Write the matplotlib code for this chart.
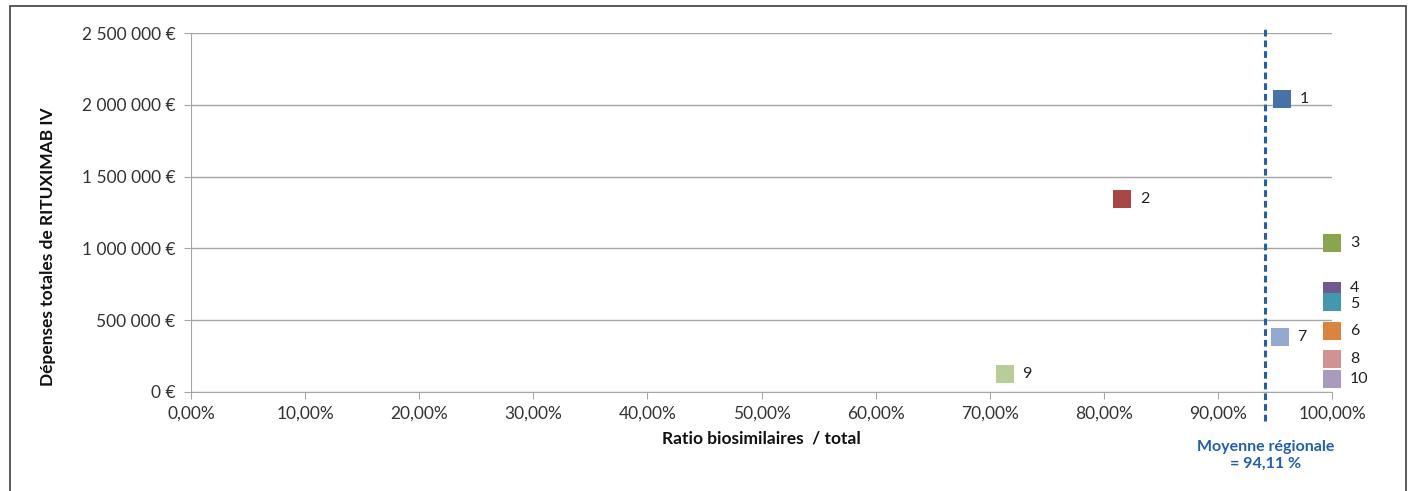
import matplotlib
matplotlib.use("Agg")
import numpy as np
from matplotlib import pyplot as plt
from matplotlib.ticker import FuncFormatter
from matplotlib.patches import Rectangle

# values
labels = ["1", "2", "3", "4", "5", "6", "7", "8", "9", "10"]
ratio = [95.6, 81.6, 100.0, 100.0, 100.0, 100.0, 95.4, 100.0, 71.3, 100.0]
depenses = [2040000, 1342000, 1035000, 705000, 629000, 425000, 385000, 228000, 123000, 88000]
colors = ["#4572A7", "#AA4643", "#89A54E", "#71588F", "#4198AF",
          "#DB843D", "#93A9CF", "#D19392", "#B9CD96", "#A99BBD"]
moyenne = 94.11

plt.rcParams['font.family'] = ['Lato', 'DejaVu Sans']

fig = plt.figure(figsize=(14.1, 4.91), dpi=100)
ax = fig.add_axes([191 / 1410, 1 - 392 / 491, (1332 - 191) / 1410, (392 - 33) / 491])

# frame around the whole chart
fig.patches.append(Rectangle((10 / 1410, -0.05), (1406 - 10) / 1410, 1.05 - 6 / 491,
                             transform=fig.transFigure, fill=False,
                             edgecolor="#404040", linewidth=1.2))

# small nudges so labels 4 and 5 don't sit on each other
label_dy = [0, 0, 0, 2, -2, 0, 0, 0, 0, 0]

for i in range(len(labels)):
    ax.scatter(ratio[i], depenses[i], marker="s", s=150, color=colors[i],
               zorder=3, clip_on=False, linewidths=0)
    ax.annotate(labels[i], (ratio[i], depenses[i]), xytext=(13, label_dy[i]),
                textcoords="offset points", va="center", ha="left",
                fontsize=11.5, color="#222222")

# regional mean
ax.axvline(moyenne, ymin=-0.08, ymax=1.015, color="#1F5FB5", linestyle=(0, (2.2, 1.3)),
           linewidth=2.2, clip_on=False, zorder=2)
fig.text(1266 / 1410, 1 - 455 / 491, "Moyenne régionale\n= 94,11 %", ha="center",
         va="center", fontsize=11.5, fontweight="bold", color="#1F5FB5",
         linespacing=1.25)

ax.set_xlim(0, 100)
ax.set_ylim(0, 2500000)
ax.set_xticks(np.arange(0, 101, 10))
ax.set_yticks(np.arange(0, 2500001, 500000))

ax.xaxis.set_major_formatter(FuncFormatter(lambda v, p: ("%.2f%%" % v).replace(".", ",")))
ax.yaxis.set_major_formatter(FuncFormatter(
    lambda v, p: ("{:,.0f} €".format(v)).replace(",", " ")))

ax.grid(axis="y", color="#A6A6A6", linewidth=1)
ax.set_axisbelow(True)
for s in ["top", "right"]:
    ax.spines[s].set_visible(False)
for s in ["left", "bottom"]:
    ax.spines[s].set_color("#A6A6A6")
ax.tick_params(axis="both", colors="#A6A6A6", labelcolor="#333333",
               labelsize=12.5, length=5)
ax.tick_params(axis="x", pad=5)
ax.tick_params(axis="y", pad=6)

fig.text(48 / 1410, 1 - 247 / 491, "Dépenses totales de RITUXIMAB IV", rotation=90,
         ha="center", va="center", fontsize=12.5, fontweight="bold", color="#111111")
fig.text(761 / 1410, 1 - 438 / 491, "Ratio biosimilaires  / total",
         ha="center", va="center", fontsize=12.5, fontweight="bold", color="#111111")

plt.savefig("out.png", dpi=100)
